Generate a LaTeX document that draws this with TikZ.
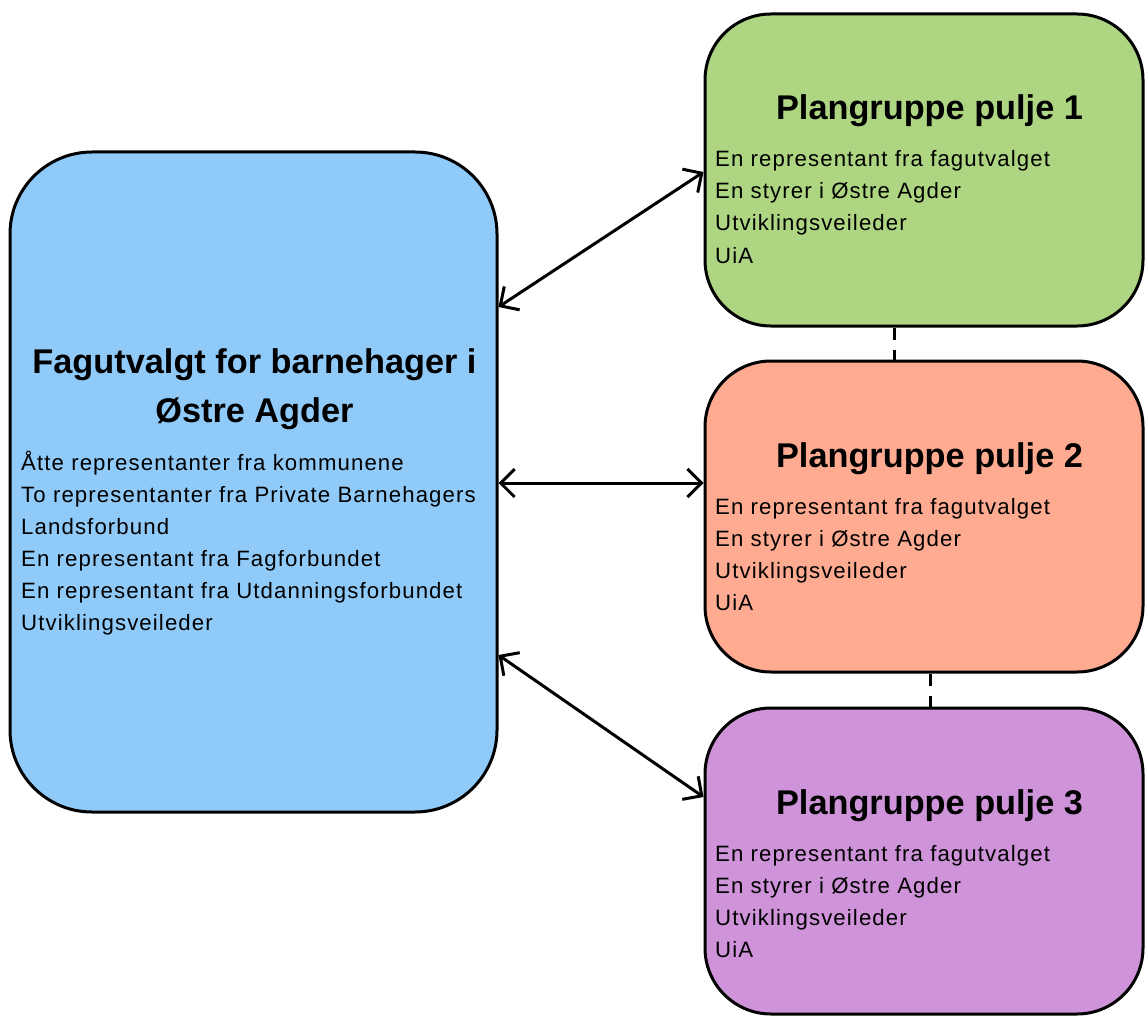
\documentclass[tikz,border=0pt]{standalone}
\usepackage{fontspec}
\setmainfont{Liberation Sans}
\newfontfamily\bodyfont[LetterSpace=5]{Liberation Sans}
\usetikzlibrary{arrows.meta}
\definecolor{cblue}{HTML}{90CAF9}
\definecolor{cgreen}{HTML}{AED581}
\definecolor{csalmon}{HTML}{FFAB91}
\definecolor{cpurple}{HTML}{CE93D8}
\tikzset{
  box/.style={draw=black, line width=3pt, inner sep=0pt},
  leftbox/.style={box, rounded corners=82pt, minimum width=487pt, minimum height=660pt},
  rightbox/.style={box, rounded corners=66pt, minimum width=438pt, minimum height=#1},
  ttl/.style={anchor=base, inner sep=0pt, font=\fontsize{34.3}{40}\selectfont\bfseries},
  body/.style={anchor=base west, inner sep=0pt, font=\bodyfont\fontsize{22.2}{26}\selectfont},
  link/.style={line width=3pt, {Straight Barb[length=14pt,width=28pt]}-{Straight Barb[length=14pt,width=28pt]}},
  gapline/.style={line width=3pt, dash pattern=on 12pt off 10pt on 30pt}
}
\begin{document}
\begin{tikzpicture}[x=1pt,y=-1pt]
\useasboundingbox (0,0) rectangle (1145,1016);
% boxes
\node[leftbox, fill=cblue] (L) at (253.5,482) {};
\node[rightbox=312pt, fill=cgreen] (G) at (924,170) {};
\node[rightbox=311pt, fill=csalmon] (S) at (924,516.5) {};
\node[rightbox=306pt, fill=cpurple] (P) at (924,861) {};
% left texts
\node[ttl] (Lt1) at (254.5,373) {Fagutvalgt for barnehager i};
\node[ttl] (Lt2) at (254.5,422) {Østre Agder};
\node[body] (Lb1) at (21,470) {Åtte representanter fra kommunene};
\node[body] (Lb2) at (21,502) {To representanter fra Private Barnehagers};
\node[body] (Lb3) at (21,534) {Landsforbund};
\node[body] (Lb4) at (21,566) {En representant fra Fagforbundet};
\node[body] (Lb5) at (21,598) {En representant fra Utdanningsforbundet};
\node[body] (Lb6) at (21,630) {Utviklingsveileder};
% green texts
\node[ttl] (Gt) at (929.5,120) {Plangruppe pulje 1};
\node[body] (Gb1) at (715,167) {En representant fra fagutvalget};
\node[body] (Gb2) at (715,199) {En styrer i Østre Agder};
\node[body] (Gb3) at (715,231) {Utviklingsveileder};
\node[body] (Gb4) at (715,263) {UiA};
% salmon texts
\node[ttl] (St) at (929.5,467) {Plangruppe pulje 2};
\node[body] (Sb1) at (715,514) {En representant fra fagutvalget};
\node[body] (Sb2) at (715,546) {En styrer i Østre Agder};
\node[body] (Sb3) at (715,578) {Utviklingsveileder};
\node[body] (Sb4) at (715,610) {UiA};
% purple texts
\node[ttl] (Pt) at (929.5,814) {Plangruppe pulje 3};
\node[body] (Pb1) at (715,861) {En representant fra fagutvalget};
\node[body] (Pb2) at (715,893) {En styrer i Østre Agder};
\node[body] (Pb3) at (715,925) {Utviklingsveileder};
\node[body] (Pb4) at (715,957) {UiA};
% connectors
\draw[link] ([yshift=175pt]L.east) -- ([yshift=-2pt]G.west);
\draw[link] ([yshift=-1pt]L.east) -- ([yshift=33.5pt]S.west);
\draw[link] ([yshift=-173pt]L.east) -- ([yshift=64pt]P.west);
\draw[gapline] ([xshift=-30pt]G.south) -- ([xshift=-30pt]S.north);
\draw[gapline] ([xshift=6pt]S.south) -- ([xshift=6pt]P.north);
\end{tikzpicture}
\end{document}
